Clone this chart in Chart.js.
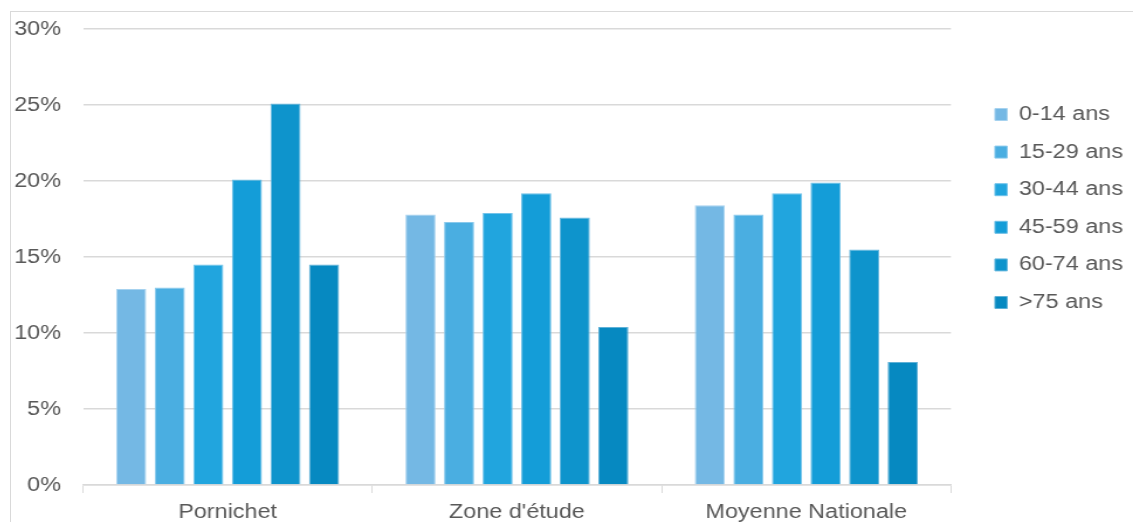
<!DOCTYPE html>
<html>
<head>
<meta charset="utf-8">
<script src="https://cdn.jsdelivr.net/npm/chart.js@4.4.1/dist/chart.umd.min.js"></script>
<style>
  html, body { margin: 0; padding: 0; background: #fff; width: 1133px; height: 522px; overflow: hidden; }
  #frame {
    position: absolute; left: 10px; top: 11px; width: 1150px; height: 560px;
    border-top: 1px solid #d9d9d9; border-left: 1px solid #d9d9d9;
  }
  #c { position: absolute; left: 0; top: 0; transform: scaleX(1.17); transform-origin: 0 0; }
</style>
</head>
<body>
<div id="frame"><canvas id="c" width="980" height="530"></canvas></div>
<script>
// Répartition de la population par tranche d'âge (%)
const categories = ['Pornichet', "Zone d'étude", 'Moyenne Nationale'];
const ageGroups = ['0-14 ans', '15-29 ans', '30-44 ans', '45-59 ans', '60-74 ans', '>75 ans'];

const age0to14  = [12.9, 17.8, 18.4];
const age15to29 = [13.0, 17.3, 17.8];
const age30to44 = [14.5, 17.9, 19.2];
const age45to59 = [20.1, 19.2, 19.9];
const age60to74 = [25.1, 17.6, 15.5];
const age75plus = [14.5, 10.4, 8.1];

const yTicks = [0, 5, 10, 15, 20, 25, 30];

const fills   = ['#74b8e4', '#4aaee1', '#21a5de', '#149dd8', '#0e94cc', '#0689c1'];
const borders = ['#a6d2ef', '#89c9ec', '#72c3ea', '#6bbfe7', '#68b8df', '#5fb1d7'];

const seriesValues = [age0to14, age15to29, age30to44, age45to59, age60to74, age75plus];

const FONT = 'Liberation Sans, Arial, Helvetica, sans-serif';
const GREY = '#595959';
const GRID = '#d9d9d9';

new Chart(document.getElementById('c'), {
  type: 'bar',
  data: {
    labels: categories,
    datasets: ageGroups.map((name, i) => ({
      label: name,
      data: seriesValues[i],
      backgroundColor: fills[i],
      borderColor: borders[i],
      borderWidth: 1,
      categoryPercentage: 0.8,
      barPercentage: 0.78
    }))
  },
  options: {
    responsive: false,
    devicePixelRatio: 1,
    animation: false,
    layout: { padding: { left: 2.6, top: 17, right: 19.6, bottom: 11 } },
    scales: {
      x: {
        grid: { display: true, drawOnChartArea: false, drawTicks: true, tickLength: 8, color: GRID, lineWidth: 1, offset: true },
        border: { display: true, color: GRID, width: 1.5 },
        ticks: { color: GREY, font: { size: 20, family: FONT }, padding: 7 }
      },
      y: {
        min: 0,
        max: 30,
        afterBuildTicks: s => { s.ticks = yTicks.map(v => ({ value: v })); },
        afterFit: s => { s.width = 58.9; s.paddingTop = 0; s.paddingBottom = 0; },
        grid: { color: GRID, lineWidth: 1.5, drawTicks: false },
        border: { display: false },
        ticks: { color: GREY, font: { size: 20, family: FONT }, padding: 18.8, callback: v => v + '%' }
      },
      gap: {
        type: 'linear',
        position: 'right',
        display: true,
        grid: { display: false },
        border: { display: false },
        ticks: { display: false },
        afterFit: s => { s.width = 20.0; }
      }
    },
    plugins: {
      tooltip: { enabled: false },
      legend: {
        position: 'right',
        align: 'start',
        title: { display: true, text: ' ', font: { size: 10, lineHeight: 1 }, padding: { top: 47.9, bottom: 0 } },
        labels: {
          boxWidth: 10.5,
          boxHeight: 12,
          padding: 17.6,
          color: GREY,
          font: { size: 20, family: FONT }
        }
      }
    }
  }
});
</script>
</body>
</html>
